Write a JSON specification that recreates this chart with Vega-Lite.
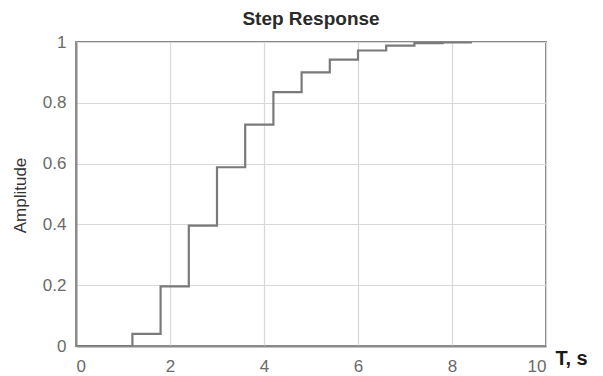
{
  "$schema": "https://vega.github.io/schema/vega-lite/v6.json",
  "width": 470,
  "height": 304,
  "autosize": {"type": "none"},
  "padding": {"left": 76, "top": 42, "right": 57, "bottom": 30},
  "background": "white",
  "config": {
    "font": "Liberation Sans",
    "view": {"stroke": "#8a8a8a", "strokeWidth": 2}
  },
  "title": {
    "text": "Step Response",
    "fontSize": 19,
    "fontWeight": "bold",
    "color": "#2a2a2a",
    "anchor": "middle",
    "offset": 4
  },
  "data": {
    "values": [
      {"t": 0, "y": 0},
      {"t": 1.2, "y": 0.04},
      {"t": 1.8, "y": 0.196},
      {"t": 2.4, "y": 0.396},
      {"t": 3.0, "y": 0.588},
      {"t": 3.6, "y": 0.728},
      {"t": 4.2, "y": 0.835},
      {"t": 4.8, "y": 0.9},
      {"t": 5.4, "y": 0.942},
      {"t": 6.0, "y": 0.972},
      {"t": 6.6, "y": 0.988},
      {"t": 7.2, "y": 0.996},
      {"t": 7.8, "y": 0.999},
      {"t": 8.4, "y": 1.0}
    ]
  },
  "mark": {"type": "line", "interpolate": "step-after", "color": "#7a7a7a", "strokeWidth": 2.2, "clip": true},
  "encoding": {
    "x": {
      "field": "t",
      "type": "quantitative",
      "scale": {"domain": [0, 10], "nice": false, "zero": false},
      "axis": {
        "values": [0, 2, 4, 6, 8, 10],
        "format": "d",
        "title": "T, s",
        "titleFontSize": 20,
        "titleFontWeight": "bold",
        "titleColor": "#1a1a1a",
        "titleX": 479,
        "titleY": 12,
        "titleAlign": "left",
        "titleBaseline": "middle",
        "titleAnchor": null,
        "labelFontSize": 17,
        "labelColor": "#6a6a6a",
        "labelPadding": 12,
        "ticks": false,
        "domainColor": "#8a8a8a",
        "domainWidth": 2,
        "grid": true,
        "gridColor": "#d8d8d8",
        "gridWidth": 1.2
      }
    },
    "y": {
      "field": "y",
      "type": "quantitative",
      "scale": {"domain": [0, 1], "nice": false},
      "axis": {
        "values": [0, 0.2, 0.4, 0.6, 0.8, 1],
        "format": "~g",
        "title": "Amplitude",
        "titleFontSize": 17,
        "titleFontWeight": "normal",
        "titleColor": "#333333",
        "titleX": -56,
        "titleY": 153,
        "titleAngle": 270,
        "titleAlign": "center",
        "titleBaseline": "middle",
        "titleAnchor": null,
        "labelFontSize": 17,
        "labelColor": "#6a6a6a",
        "labelPadding": 10,
        "ticks": false,
        "domainColor": "#8a8a8a",
        "domainWidth": 2,
        "grid": true,
        "gridColor": "#d8d8d8",
        "gridWidth": 1.2
      }
    }
  }
}
